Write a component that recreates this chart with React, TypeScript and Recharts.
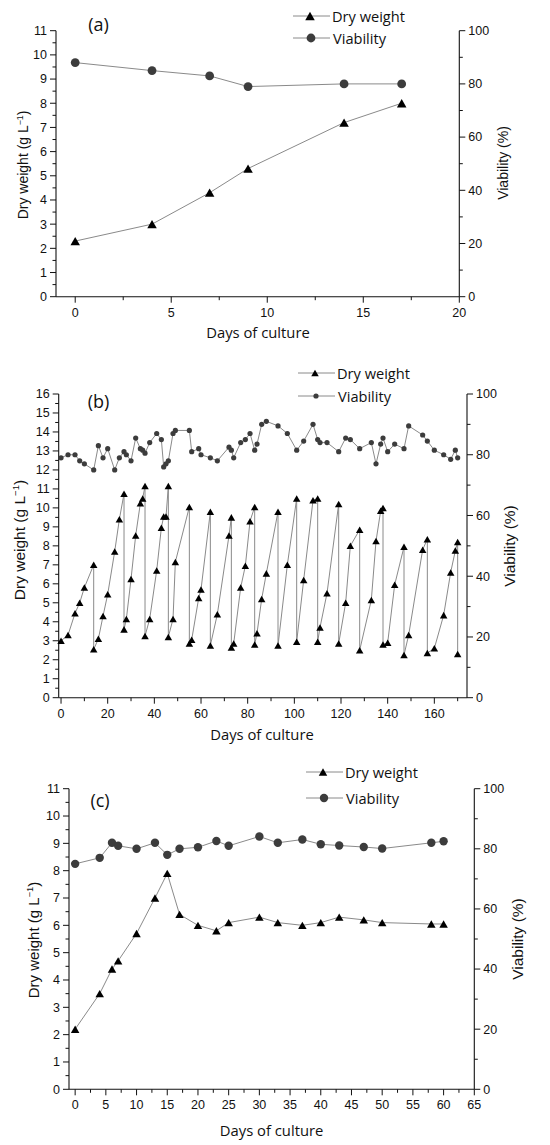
import React from 'react';
import { LineChart, Line, XAxis, YAxis, Legend } from 'recharts';

// (a) batch culture
const daysA = [0, 4, 7, 9, 14, 17];
const dryWeightA = [2.3, 3.0, 4.3, 5.3, 7.2, 8.0];
const viabilityA = [88, 85, 83, 79, 80, 80];

// (b) repeated harvest cycles
const dwDaysB = [
  0, 3, 6, 8, 10, 14, 14, 16, 18, 20, 23, 25, 27, 27, 28, 30, 32, 34, 35, 36, 36, 38, 41, 43, 44, 45,
  46, 46, 48, 49, 55, 55, 56, 59, 60, 64, 64, 67, 72, 73, 73, 74, 77, 79, 81, 83, 83, 84, 86, 88, 93,
  93, 97, 101, 101, 104, 108, 110, 110, 111, 114, 119, 119, 122, 124, 128, 128, 133, 135, 137, 138,
  138, 140, 143, 147, 147, 149, 155, 157, 157, 160, 164, 167, 169, 170, 170,
];
const dryWeightB = [
  3.0, 3.3, 4.45, 5.0, 5.8, 7.0, 2.55, 3.1, 4.3, 5.45, 7.7, 9.4, 10.75, 3.6, 4.15, 6.25, 8.55, 10.25,
  10.5, 11.15, 3.25, 4.15, 6.7, 8.95, 9.55, 9.55, 11.15, 3.2, 4.15, 7.15, 10.05, 2.85, 3.05, 5.25, 5.7,
  9.8, 2.75, 4.4, 8.55, 9.5, 2.65, 2.85, 5.8, 6.95, 9.3, 10.05, 2.8, 3.4, 5.2, 6.55, 9.8, 2.75, 7.0,
  10.5, 2.95, 6.2, 10.4, 10.5, 2.95, 3.7, 5.5, 10.2, 2.85, 5.0, 8.0, 8.85, 2.5, 5.15, 8.25, 9.85, 10.0,
  2.8, 2.9, 5.95, 7.95, 2.25, 3.3, 7.8, 8.35, 2.35, 2.6, 4.35, 6.6, 7.75, 8.2, 2.3,
];
const viaDaysB = [
  0, 3, 6, 8, 10, 14, 16, 18, 20, 23, 25, 27, 28, 30, 32, 34, 35, 36, 38, 41, 43, 44, 45, 46, 48, 49,
  55, 56, 59, 60, 64, 67, 72, 73, 74, 77, 79, 81, 83, 84, 86, 88, 93, 97, 101, 104, 108, 110, 111, 114,
  119, 122, 124, 128, 133, 135, 137, 138, 140, 143, 147, 149, 155, 157, 160, 164, 167, 169, 170,
];
const viabilityB = [
  79, 80, 80, 78, 77, 75, 83, 79, 82, 75, 79, 81, 80, 78, 85.5, 82, 81.5, 80.5, 84, 87, 85, 76, 77, 78,
  87, 88, 88, 81, 82, 80, 79, 78, 82.5, 81.5, 79, 84, 85, 87, 81.5, 83.5, 90, 91, 89.5, 87, 81.5, 84.5,
  90, 85, 84, 84, 81, 85.5, 85, 82, 84, 77, 83.5, 85.5, 81, 83.5, 82, 89.5, 86.5, 84.5, 81.5, 80, 78.5,
  81.5, 79,
];

// (c) continuous culture
const daysC = [0, 4, 6, 7, 10, 13, 15, 17, 20, 23, 25, 30, 33, 37, 40, 43, 47, 50, 58, 60];
const dryWeightC = [2.2, 3.5, 4.4, 4.7, 5.7, 7.0, 7.9, 6.4, 6.0, 5.8, 6.1, 6.3, 6.1, 6.0, 6.1, 6.3, 6.2, 6.1, 6.05, 6.05];
const viabilityC = [75, 77, 82, 81, 80, 82, 78, 80, 80.5, 82.6, 81, 84.1, 82, 83.1, 81.5, 81.1, 80.6, 80.1, 82, 82.5];

const range = (start: number, end: number, step: number) => {
  const out: number[] = [];
  for (let v = start; v <= end + 1e-9; v += step) out.push(Math.round(v * 100) / 100);
  return out;
};

// tick values (major + minor)
const xTicksA = range(0, 20, 2.5);
const xTicksB = range(0, 170, 10);
const xTicksC = range(0, 65, 2.5);
const dwTicks11 = range(0, 11, 0.5);
const dwTicks16 = range(0, 16, 0.5);
const viaTicks = range(0, 100, 10);

const pairs = (xs: number[], ys: number[]) => xs.map((d, i) => ({ day: d, value: ys[i] }));

const TICK_FONT = '"Liberation Sans", Arial, sans-serif';
const TEXT_FONT = '"Open Sans", sans-serif';

function makeTick(side: 'left' | 'right' | 'bottom', major: number) {
  return (props: any) => {
    const { x, y, payload } = props;
    const v = payload.value;
    const isMajor = Math.abs(v / major - Math.round(v / major)) < 1e-6;
    const len = isMajor ? 6 : 3.5;
    const textProps = { fontSize: 12.5, fontFamily: TICK_FONT, fill: '#111' };
    if (side === 'bottom') {
      return (
        <g>
          <line x1={x} y1={y} x2={x} y2={y + len} stroke="#111" strokeWidth={1} />
          {isMajor && (
            <text x={x} y={y + 15.5} dy="0.35em" textAnchor="middle" {...textProps}>
              {v}
            </text>
          )}
        </g>
      );
    }
    const dir = side === 'left' ? -1 : 1;
    return (
      <g>
        <line x1={x} y1={y} x2={x + dir * len} y2={y} stroke="#111" strokeWidth={1} />
        {isMajor && (
          <text x={x + dir * 9} y={y} dy="0.35em" textAnchor={side === 'left' ? 'end' : 'start'} {...textProps}>
            {v}
          </text>
        )}
      </g>
    );
  };
}

const triPath = (cx: number, cy: number, w: number) => {
  const h = w * 0.87;
  return `M${cx},${cy - h / 2}L${cx + w / 2},${cy + h / 2}L${cx - w / 2},${cy + h / 2}Z`;
};

const triangleDot = (w: number) => (props: any) => {
  const { cx, cy, index } = props;
  if (cx == null || cy == null) return <g key={`t-${index}`} />;
  return <path key={`t-${index}`} d={triPath(cx, cy, w)} fill="#000" />;
};

type PanelProps = {
  top: number;
  height: number;
  margin: { top: number; right: number; bottom: number; left: number };
  xDomain: [number, number];
  xTicks: number[];
  xMajor: number;
  dwDomain: [number, number];
  dwTicks: number[];
  dwData: { day: number; value: number }[];
  viaData: { day: number; value: number }[];
  tri: number;
  dotR: number;
  legend: { left: number; top: number; rowH: number };
};

function Panel(p: PanelProps) {
  const legendContent = (props: any) => (
    <div style={{ fontFamily: TEXT_FONT, fontSize: 14.6, color: '#111' }}>
      {(props.payload || []).map((entry: any, i: number) => (
        <div key={i} style={{ display: 'flex', alignItems: 'center', height: p.legend.rowH }}>
          <svg width={37} height={14} style={{ display: 'block' }}>
            <line x1={0} y1={7} x2={37} y2={7} stroke="#8a8a8a" strokeWidth={1} />
            {i === 0 ? (
              <path d={triPath(17, 7, p.tri)} fill="#000" />
            ) : (
              <circle cx={18} cy={7} r={p.dotR} fill="#3c3c3c" />
            )}
          </svg>
          <span style={{ marginLeft: 2 + (i === 1 ? 1 : 0) }}>{entry.value}</span>
        </div>
      ))}
    </div>
  );

  return (
    <div style={{ position: 'absolute', left: 0, top: p.top }}>
      <LineChart width={550} height={p.height} margin={p.margin}>
        <XAxis
          type="number"
          dataKey="day"
          domain={p.xDomain}
          ticks={p.xTicks}
          interval={0}
          tickSize={0}
          tickMargin={0}
          tickLine={false}
          tick={makeTick('bottom', p.xMajor)}
          axisLine={{ stroke: '#111', strokeWidth: 1.1 }}
          height={30}
        />
        <YAxis
          yAxisId="dw"
          type="number"
          domain={p.dwDomain}
          ticks={p.dwTicks}
          interval={0}
          tickSize={0}
          tickMargin={0}
          tickLine={false}
          tick={makeTick('left', 1)}
          axisLine={{ stroke: '#111', strokeWidth: 1.1 }}
          width={40}
        />
        <YAxis
          yAxisId="via"
          orientation="right"
          type="number"
          domain={[0, 100]}
          ticks={viaTicks}
          interval={0}
          tickSize={0}
          tickMargin={0}
          tickLine={false}
          tick={makeTick('right', 20)}
          axisLine={{ stroke: '#111', strokeWidth: 1.1 }}
          width={40}
        />
        <Line
          yAxisId="dw"
          data={p.dwData}
          dataKey="value"
          name="Dry weight"
          type="linear"
          stroke="#8a8a8a"
          strokeWidth={1}
          dot={triangleDot(p.tri)}
          activeDot={false}
          isAnimationActive={false}
        />
        <Line
          yAxisId="via"
          data={p.viaData}
          dataKey="value"
          name="Viability"
          type="linear"
          stroke="#8a8a8a"
          strokeWidth={1}
          dot={{ r: p.dotR, fill: '#3c3c3c', stroke: '#3c3c3c', strokeWidth: 0 }}
          activeDot={false}
          isAnimationActive={false}
        />
        <Legend
          layout="vertical"
          align="center"
          verticalAlign="middle"
          content={legendContent}
          wrapperStyle={{ left: p.legend.left, top: p.legend.top, width: 'auto' }}
        />
      </LineChart>
    </div>
  );
}

function Txt({ x, y, size, font, rotate, children }: any) {
  return (
    <div
      style={{
        position: 'absolute',
        left: x,
        top: y,
        transform: `translate(-50%, -50%)${rotate ? ' rotate(-90deg)' : ''}`,
        fontSize: size,
        fontFamily: font,
        whiteSpace: 'nowrap',
        lineHeight: 1,
        color: '#111',
      }}
    >
      {children}
    </div>
  );
}

const DwTitle = () => (
  <>
    Dry weight (g L<span style={{ fontSize: '0.62em', position: 'relative', top: '-0.6em' }}>−1</span>)
  </>
);

export default function App() {
  return (
    <div style={{ position: 'absolute', left: 0, top: 0, width: 550, height: 1145, background: '#fff' }}>
      <Panel
        top={0}
        height={345}
        margin={{ top: 30.7, right: 50.7, bottom: 18.3, left: 16 }}
        xDomain={[-1, 20]}
        xTicks={xTicksA}
        xMajor={5}
        dwDomain={[0, 11]}
        dwTicks={dwTicks11}
        dwData={pairs(daysA, dryWeightA)}
        viaData={pairs(daysA, viabilityA)}
        tri={9.5}
        dotR={4.4}
        legend={{ left: 293, top: 4.4, rowH: 22.6 }}
      />
      <Panel
        top={360}
        height={400}
        margin={{ top: 34, right: 43, bottom: 32.3, left: 18.7 }}
        xDomain={[-1, 174]}
        xTicks={xTicksB}
        xMajor={20}
        dwDomain={[0, 16]}
        dwTicks={dwTicks16}
        dwData={pairs(dwDaysB, dryWeightB)}
        viaData={pairs(viaDaysB, viabilityB)}
        tri={7.5}
        dotR={2.6}
        legend={{ left: 298, top: 1, rowH: 23.3 }}
      />
      <Panel
        top={750}
        height={395}
        margin={{ top: 38.7, right: 35.7, bottom: 25.7, left: 29 }}
        xDomain={[-1, 65]}
        xTicks={xTicksC}
        xMajor={5}
        dwDomain={[0, 11]}
        dwTicks={dwTicks11}
        dwData={pairs(daysC, dryWeightC)}
        viaData={pairs(daysC, viabilityC)}
        tri={8.5}
        dotR={4.2}
        legend={{ left: 306, top: 8.7, rowH: 26 }}
      />

      <Txt x={98.5} y={24} size={18} font={TEXT_FONT}>(a)</Txt>
      <Txt x={22.8} y={165} size={14} font={TICK_FONT} rotate><DwTitle /></Txt>
      <Txt x={503} y={163} size={14} font={TICK_FONT} rotate>Viability (%)</Txt>
      <Txt x={258} y={332} size={14.8} font={TEXT_FONT}>Days of culture</Txt>

      <Txt x={98.5} y={400.7} size={18} font={TEXT_FONT}>(b)</Txt>
      <Txt x={20} y={540} size={15.5} font={TICK_FONT} rotate><DwTitle /></Txt>
      <Txt x={510} y={546} size={15.5} font={TICK_FONT} rotate>Viability (%)</Txt>
      <Txt x={262} y={734} size={14.8} font={TEXT_FONT}>Days of culture</Txt>

      <Txt x={100} y={800} size={18} font={TEXT_FONT}>(c)</Txt>
      <Txt x={34} y={940} size={15} font={TICK_FONT} rotate><DwTitle /></Txt>
      <Txt x={518} y={939} size={15.5} font={TICK_FONT} rotate>Viability (%)</Txt>
      <Txt x={271.6} y={1130} size={14.8} font={TEXT_FONT}>Days of culture</Txt>
    </div>
  );
}
